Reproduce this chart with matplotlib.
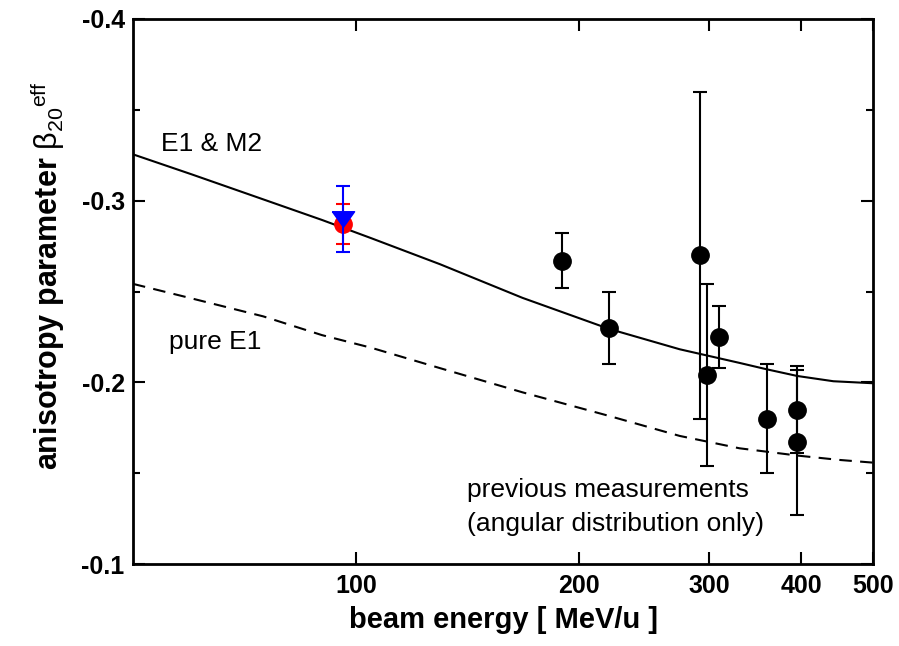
import matplotlib
matplotlib.use('Agg')
import matplotlib.pyplot as plt
from matplotlib.ticker import FixedLocator, FixedFormatter, NullLocator

plt.rcParams['font.family'] = ['Liberation Sans', 'DejaVu Sans']
plt.rcParams['mathtext.fontset'] = 'custom'
plt.rcParams['mathtext.rm'] = 'Liberation Sans'
plt.rcParams['mathtext.it'] = 'Liberation Sans:italic'
plt.rcParams['mathtext.bf'] = 'Liberation Sans:bold'

# theory curves
e1m2_energy = [50, 60, 75, 90, 105, 130, 168, 220, 274, 330, 359, 395, 442, 500]
e1m2_beta = [-0.3255, -0.3145, -0.3007, -0.2894, -0.2793, -0.2650, -0.2465,
             -0.2294, -0.2182, -0.2107, -0.2072, -0.2035, -0.2006, -0.1995]
e1_energy = [50, 60, 75, 90, 105, 130, 168, 220, 274, 330, 395, 450, 500]
e1_beta = [-0.2542, -0.2462, -0.2363, -0.2260, -0.2190, -0.2078, -0.1945,
           -0.1815, -0.1705, -0.1637, -0.1597, -0.1573, -0.1558]

# previous measurements
prev_energy = [190, 220, 292, 298, 310, 359, 395, 395]
prev_beta = [-0.267, -0.230, -0.270, -0.204, -0.225, -0.180, -0.185, -0.167]
prev_err = [0.015, 0.020, 0.090, 0.050, 0.017, 0.030, 0.024, 0.040]

# this work
red_energy = [96]
red_beta = [-0.287]
red_err = [0.011]
blue_energy = [96]
blue_beta = [-0.290]
blue_err = [0.018]

xticks = [100, 200, 300, 400, 500]
xticklabels = ['100', '200', '300', '400', '500']
yticks = [-0.4, -0.3, -0.2, -0.1]
yticklabels = ['-0.4', '-0.3', '-0.2', '-0.1']
yminor = [-0.35, -0.25, -0.15]

fig = plt.figure(figsize=(8.99, 6.46), dpi=100)
ax = fig.add_axes([133/899, 1 - 564/646, (873 - 133)/899, (564 - 19)/646])

ax.plot(e1m2_energy, e1m2_beta, color='black', lw=1.5, zorder=2)
ax.plot(e1_energy, e1_beta, color='black', lw=1.5, dashes=(6, 4), zorder=2)

ax.errorbar(prev_energy, prev_beta, yerr=prev_err, fmt='o', color='black',
            ms=12.5, elinewidth=1.5, capsize=4.7, capthick=1.5, zorder=3)
ax.errorbar(red_energy, red_beta, yerr=red_err, fmt='o', color='red',
            ms=12.5, elinewidth=1.5, capsize=4.7, capthick=1.5, zorder=4)
tri = [(-1, 0.7), (1, 0.7), (0, -0.7), (-1, 0.7)]
ax.errorbar(blue_energy, blue_beta, yerr=blue_err, fmt='none', ecolor='blue',
            elinewidth=1.5, capsize=4.7, capthick=1.5, zorder=5)
ax.plot(blue_energy, blue_beta, linestyle='none', marker=tri, ms=16,
        color='blue', mec='blue', zorder=6)

ax.set_xscale('log')
ax.set_xlim(50, 500)
ax.set_ylim(-0.1, -0.4)
ax.xaxis.set_major_locator(FixedLocator(xticks))
ax.xaxis.set_major_formatter(FixedFormatter(xticklabels))
ax.xaxis.set_minor_locator(NullLocator())
ax.yaxis.set_major_locator(FixedLocator(yticks))
ax.yaxis.set_major_formatter(FixedFormatter(yticklabels))
ax.yaxis.set_minor_locator(FixedLocator(yminor))

ax.tick_params(which='both', direction='in', top=True, right=True, width=1.5)
ax.tick_params(which='major', length=8.5)
ax.tick_params(which='minor', length=5)
ax.tick_params(axis='x', which='major', pad=7, labelsize=18)
ax.tick_params(axis='y', which='major', pad=6, labelsize=18)
for lab in ax.get_xticklabels() + ax.get_yticklabels():
    lab.set_fontweight('bold')
for s in ax.spines.values():
    s.set_linewidth(2)

ax.set_xlabel('beam energy [ MeV/u ]', fontsize=21, fontweight='bold', labelpad=6)
fig.text(48/899, 1 - 276/646,
         r'anisotropy parameter $\mathrm{\beta}_{20}{}^{\mathrm{eff}}$',
         rotation=90, ha='center', va='center', fontsize=22, fontweight='bold')

ax.text(54.6, -0.3274, 'E1 & M2', fontsize=19, ha='left', va='baseline')
ax.text(56.0, -0.2184, 'pure E1', fontsize=19, ha='left', va='baseline')
ax.text(141.4, -0.1369, 'previous measurements', fontsize=19, ha='left', va='baseline')
ax.text(141.4, -0.1182, '(angular distribution only)', fontsize=19, ha='left', va='baseline')

fig.savefig('out.png', dpi=100)
